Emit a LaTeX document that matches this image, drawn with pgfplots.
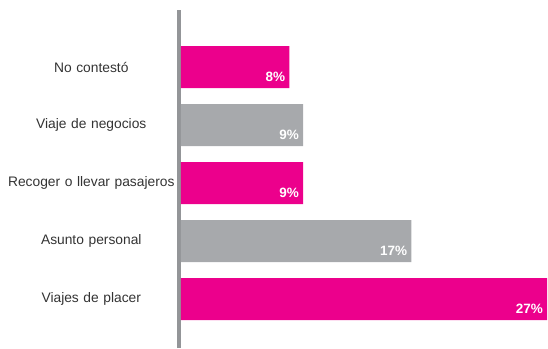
\documentclass[border=0pt]{standalone}
\usepackage{fontspec}
\setmainfont{Liberation Sans}
\usepackage{pgfplots}
\pgfplotsset{compat=1.18}
\definecolor{mag}{HTML}{EC008C}
\definecolor{gr}{HTML}{A7A9AC}
\definecolor{axl}{HTML}{939598}
\definecolor{txt}{HTML}{333333}
\begin{document}
\begin{tikzpicture}
\begin{axis}[
  at={(0,0)}, anchor=south west,
  scale only axis, width=366pt, height=334pt,
  xmin=0, xmax=27, ymin=-0.79, ymax=4.97,
  xbar, bar width=42pt, bar shift=0pt,
  axis x line=none,
  axis y line*=left,
  axis line style={draw=none},
  /pgf/number format/assume math mode=true,
  ytick={0,1,2,3,4},
  yticklabels={Viajes de placer, Asunto personal, Recoger o llevar pasajeros, Viaje de negocios, No contestó},
  major tick length=0pt,
  yticklabel style={text width=175pt, align=center, inner sep=0pt, font=\fontsize{13.8}{16}\selectfont, text=txt, xshift=-2pt},
  nodes near coords={\pgfmathprintnumber{\pgfplotspointmeta}\%},
  nodes near coords style={anchor=south east, inner sep=2pt, xshift=-2pt, yshift=-17pt, text=white, font=\fontsize{13.5}{15}\selectfont\bfseries},
  clip=false,
]
\draw[axl, line width=3.2pt] ([xshift=-2pt,yshift=-3pt]axis cs:0,-0.79) -- ([xshift=-2pt,yshift=1pt]axis cs:0,4.97);
\addplot[fill=mag, draw=none] coordinates {(27,0) (9,2) (8,4)};
\addplot[fill=gr, draw=none] coordinates {(17,1) (9,3)};
\end{axis}
\pgfresetboundingbox
\path (-181pt,-3pt) rectangle (367pt,345pt);
\end{tikzpicture}
\end{document}
